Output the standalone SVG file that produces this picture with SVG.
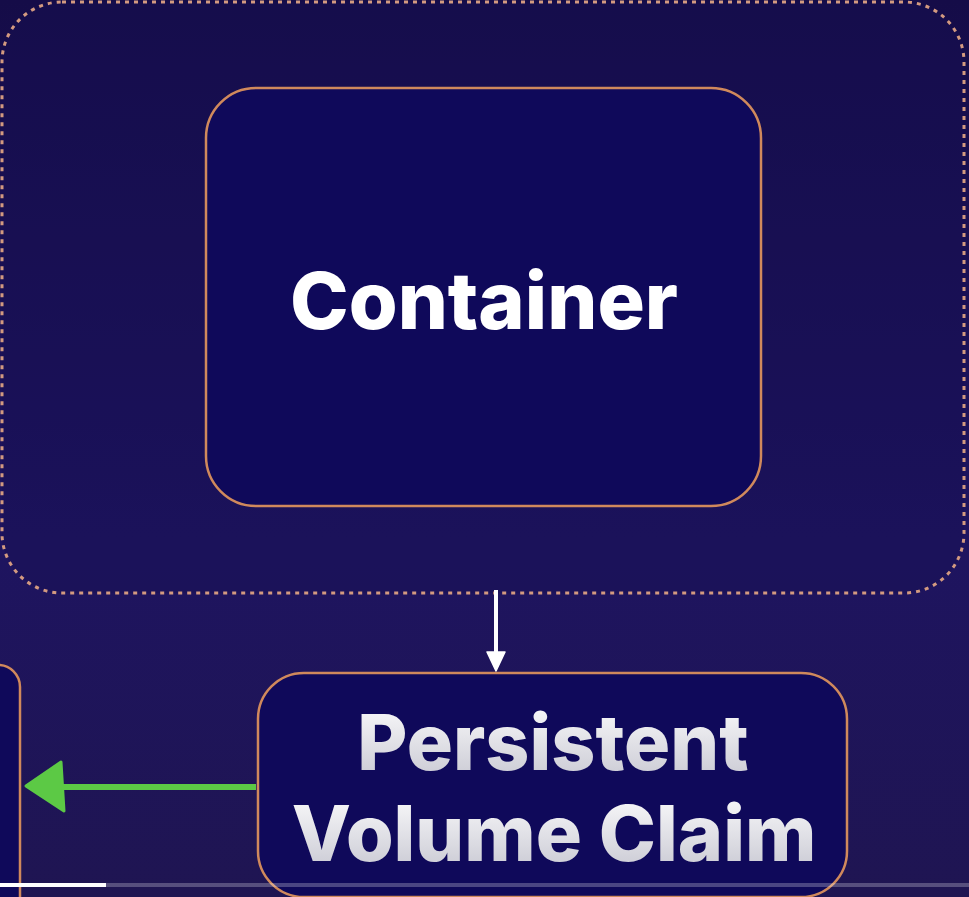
<svg xmlns="http://www.w3.org/2000/svg" width="969" height="897" viewBox="0 0 969 897">
<defs>
<linearGradient id="bg" x1="0" y1="0" x2="0" y2="1">
<stop offset="0" stop-color="#150c48"/>
<stop offset="0.6" stop-color="#1e1460"/>
<stop offset="1" stop-color="#1f1552"/>
</linearGradient>
<linearGradient id="txt" x1="0" y1="0" x2="0" y2="1">
<stop offset="0" stop-color="#ffffff"/>
<stop offset="1" stop-color="#c4c4cf"/>
</linearGradient>
<style>
.box{fill:#0f095a;stroke:#d0895c;stroke-width:2.5}
.lbl{font-family:Inter,"Liberation Sans",sans-serif;font-weight:800;text-anchor:middle}
</style>
</defs>
<rect width="969" height="897" fill="url(#bg)"/>
<g id="pod">
<rect x="2" y="2" width="962" height="591" rx="60" fill="#170e52" fill-opacity="0.4" stroke="#d39a80" stroke-width="3" stroke-dasharray="4 5"/>
</g>
<g id="container">
<rect class="box" x="206" y="88" width="555" height="418" rx="50"/>
<text class="lbl" x="484" y="329" font-size="79" fill="#ffffff">Container</text>
</g>
<g id="pvc">
<rect class="box" x="258" y="673" width="589" height="224" rx="46"/>
<text class="lbl" x="553" y="770" font-size="77" fill="url(#txt)">Persistent</text>
<text class="lbl" x="554" y="861" font-size="77" fill="url(#txt)">Volume Claim</text>
</g>
<g id="pv">
<rect class="box" x="-100" y="665" width="120" height="260" rx="22"/>
</g>
<g id="connectors">
<line x1="496" y1="590" x2="496" y2="655" stroke="#ffffff" stroke-width="4"/>
<path d="M487,652 L505,652 L496,671 z" fill="#ffffff" stroke="#ffffff" stroke-width="1.5" stroke-linejoin="round"/>
<line x1="256" y1="787" x2="60" y2="787" stroke="#5cc945" stroke-width="6"/>
<path d="M26,786 L61,762 L64,811 z" fill="#5cc945" stroke="#5cc945" stroke-width="3" stroke-linejoin="round"/>
</g>
<rect x="0" y="883" width="969" height="4" fill="#ffffff" fill-opacity="0.25"/>
<rect x="0" y="883" width="106" height="4" fill="#ffffff"/>
</svg>
